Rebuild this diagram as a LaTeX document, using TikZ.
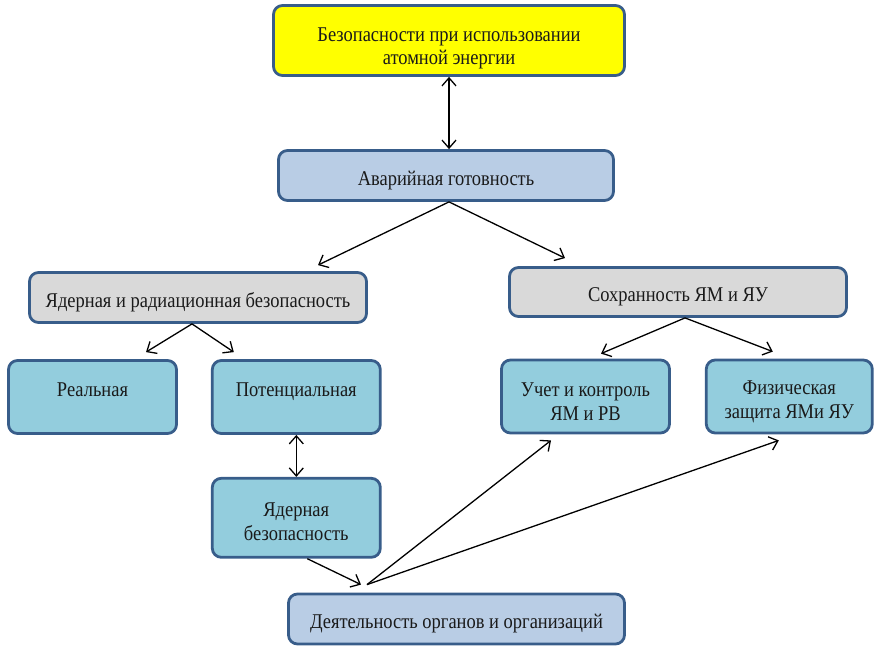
\documentclass[tikz,border=0pt]{standalone}
\usepackage{fontspec}
\setmainfont[FakeStretch=0.88]{Liberation Serif}
\usetikzlibrary{arrows.meta, positioning}
\definecolor{frameBlue}{HTML}{385D8A}
\definecolor{topYellow}{HTML}{FFFF00}
\definecolor{paleBlue}{HTML}{B9CDE5}
\definecolor{paleGray}{HTML}{D9D9D9}
\definecolor{aquaBlue}{HTML}{93CDDD}
\definecolor{textGray}{HTML}{1A1A1A}

\begin{document}
\begin{tikzpicture}[
  x=1pt, y=-1pt,
  basebox/.style={
    rectangle, rounded corners=9pt, draw=frameBlue, line width=2.8pt,
    align=center, inner sep=2pt, text=textGray,
    font=\fontsize{21}{23.5}\selectfont,
  },
  yellowbox/.style={basebox, fill=topYellow, minimum width=351pt, minimum height=70pt, text height=53pt},
  headbox/.style={basebox, fill=paleBlue, minimum width=335pt, minimum height=50pt, text height=24pt, text depth=5pt},
  graybox/.style={basebox, fill=paleGray, minimum width=337pt, minimum height=50pt, text height=24pt, text depth=5pt},
  leafbox/.style={basebox, fill=aquaBlue, minimum width=168pt, minimum height=73pt},
  lowtext/.style={text height=15pt, text depth=17pt},
  link/.style={-{Straight Barb[length=8pt,width=14pt]}, line width=1.3pt},
  twolink/.style={{Straight Barb[length=8pt,width=14pt]}-{Straight Barb[length=8pt,width=14pt]}, line width=1.3pt},
]
\useasboundingbox (0,0) rectangle (874,647);

% Top levels
\node[yellowbox] (safety) at (449,40.5) {Безопасности при использовании\\атомной энергии};
\node[headbox] (ready) at (446,175.5) {Аварийная готовность};

% Two branches
\node[graybox] (nrs) at (198,297.5) {Ядерная и радиационная безопасность};
\node[graybox, minimum height=49pt] (sec) at (678,292) {Сохранность ЯМ и ЯУ};

% Leaves
\node[leafbox, lowtext] (real) at (92.5,397) {Реальная};
\node[leafbox, lowtext, right=33pt of real] (pot) {Потенциальная};
\node[leafbox, text height=48pt] (acc) at (585.5,396.5) {Учет и контроль\\ЯМ и РВ};
\node[leafbox, text height=48pt, minimum width=166pt, right=34pt of acc] (phys) {Физическая\\защита ЯМи ЯУ};
\node[leafbox, minimum height=79pt, text height=45pt, below=42pt of pot] (nsafe) {Ядерная\\безопасность};

% Bottom
\node[headbox, minimum width=336pt] (act) at (456.5,619) {Деятельность органов и организаций};
\coordinate (hub) at ([xshift=-89.5pt,yshift=8pt]act.north);

% Arrows
\draw[twolink] (safety.south) -- (safety.south |- ready.north);
\draw[link] ([xshift=3pt]ready.south) -- ([xshift=120pt,yshift=6pt]nrs.north);
\draw[link] ([xshift=3pt]ready.south) -- ([xshift=-113pt,yshift=8pt]sec.north);
\draw[link] ([xshift=-6pt]nrs.south) -- ([xshift=53.5pt,yshift=7pt]real.north);
\draw[link] ([xshift=-6pt]nrs.south) -- ([xshift=-62.5pt,yshift=7pt]pot.north);
\draw[link] ([xshift=7pt]sec.south) -- ([xshift=15.5pt,yshift=5pt]acc.north);
\draw[link] ([xshift=7pt]sec.south) -- ([xshift=-16.5pt,yshift=7pt]phys.north);
\draw[twolink] (pot.south) -- (pot.south |- nsafe.north);
\draw[link] ([xshift=11pt]nsafe.south) -- ([xshift=-95.5pt,yshift=8pt]act.north);
\draw[link] (hub) -- ([xshift=-34.5pt,yshift=-6pt]acc.south);
\draw[link] (hub) -- ([xshift=-10.5pt,yshift=-6pt]phys.south);

\end{tikzpicture}
\end{document}
